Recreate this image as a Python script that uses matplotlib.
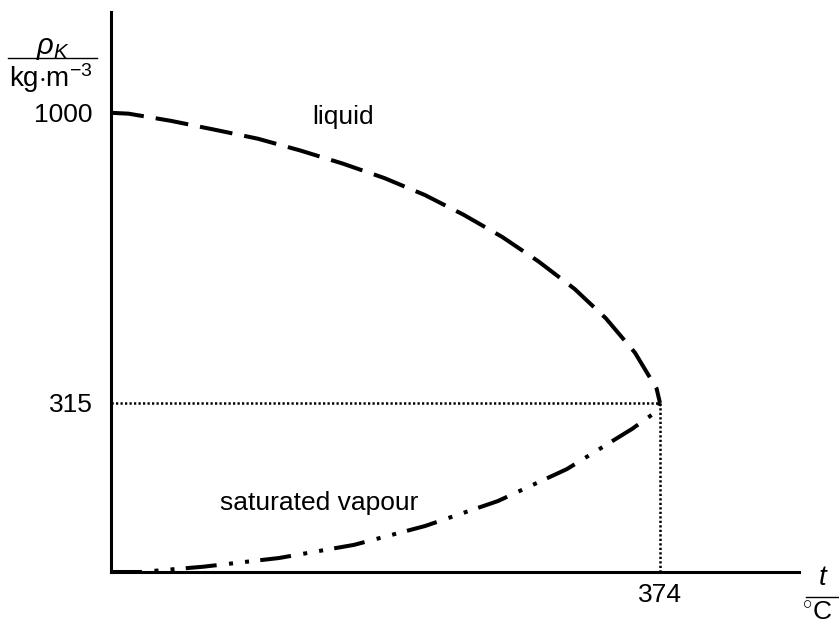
import matplotlib
matplotlib.use('Agg')
import matplotlib.pyplot as plt
from matplotlib.lines import Line2D

plt.rcParams['font.family'] = ['Liberation Sans', 'DejaVu Sans']
plt.rcParams['mathtext.fontset'] = 'custom'
plt.rcParams['mathtext.rm'] = 'Liberation Sans'
plt.rcParams['mathtext.it'] = 'Liberation Sans:italic'

# values (t in degC, rho in kg/m3)
t_liquid = [0, 11.9, 40.9, 70.8, 99.9, 129.0, 158.0, 186.2, 213.8, 240.4, 266.5, 291.3, 315.9, 337.1, 356.9, 371.7, 374]
rho_liquid = [1000, 998, 981, 960, 939, 911, 880, 846, 806, 759, 707, 649, 584, 515, 434, 349, 315]
t_vapour = [0, 20.0, 62.7, 114.4, 165.5, 213.9, 263.6, 310.6, 354.9, 371.3, 374]
rho_vapour = [-84, -84, -71.6, -51, -20, 24.5, 83.5, 159, 253.6, 294, 315]
t_crit = 374
rho_crit = 315
y_ticks = [315, 1000]
x_ticks = [374]

fig = plt.figure(figsize=(8.39, 6.25), dpi=100)
ax = fig.add_axes([0.1323, 0.0848, 0.82, 0.896])

ax.plot(t_liquid, rho_liquid, color='black', lw=2.9, dashes=(8.2, 3.0))
ax.plot(t_vapour, rho_vapour, color='black', lw=2.9,
        dashes=(7.7, 3.1, 1.0, 3.0, 1.0, 2.8))
# dotted guide lines to the critical point
ax.plot([0, t_crit], [rho_crit, rho_crit], color='black', lw=1.8, dashes=(0.9, 0.9))
ax.plot([t_crit, t_crit], [-84, rho_crit], color='black', lw=1.8, dashes=(0.9, 0.9))

ax.set_xlim(0, 468.7)
ax.set_ylim(-84, 1238)
ax.set_xticks(x_ticks)
ax.set_yticks(y_ticks)
ax.tick_params(length=0, labelsize=19)
ax.tick_params(axis='y', pad=13)
ax.tick_params(axis='x', pad=8)
for s in ['top', 'right']:
    ax.spines[s].set_visible(False)
for s in ['left', 'bottom']:
    ax.spines[s].set_linewidth(2.2)

ax.text(158, 990, 'liquid', fontsize=19, ha='center', va='center')
ax.text(142, 79, 'saturated vapour', fontsize=19, ha='center', va='center')

# axis quantity labels as fractions
fig.text(53 / 839, 1 - 48 / 625, r'$\rho_K$', fontsize=21, ha='center', va='center')
fig.add_artist(Line2D([8 / 839, 97 / 839], [1 - 58 / 625, 1 - 58 / 625], color='black', lw=1.0))
fig.text(51 / 839, 1 - 78 / 625, r'kg$\cdot$m$^{-3}$', fontsize=20, ha='center', va='center')

fig.text(823 / 839, 1 - 578 / 625, r'$t$', fontsize=20, ha='center', va='center')
fig.add_artist(Line2D([806 / 839, 839 / 839], [1 - 597 / 625, 1 - 597 / 625], color='black', lw=1.0))
fig.text(817 / 839, 1 - 613 / 625, r'$^{\circ}$C', fontsize=19, ha='center', va='center')

fig.savefig('out.png', dpi=100)
